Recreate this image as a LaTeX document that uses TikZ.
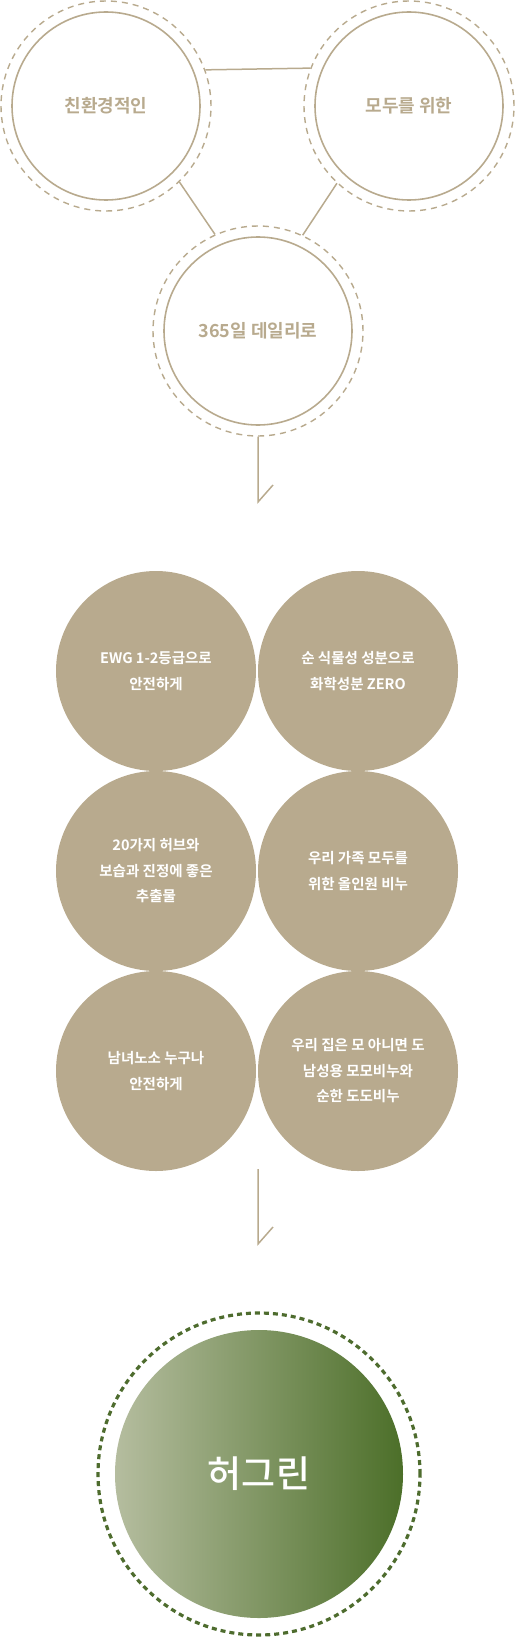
\documentclass[tikz,border=0pt]{standalone}
\usepackage{fontspec}
\setmainfont{Noto Sans CJK KR}
\newfontfamily\krmedium{Noto Sans CJK KR Medium}
\newfontfamily\krbold{Noto Sans CJK KR Bold}
\usetikzlibrary{calc}
\definecolor{tan}{HTML}{B8AA8E}
\definecolor{moss}{HTML}{4E6C2E}
\definecolor{sage}{HTML}{B5BD9F}
\definecolor{fern}{HTML}{4C6F29}
\tikzset{
	ring/.style={circle, draw=tan, line width=1.6pt, minimum size=188pt, inner sep=0pt, text=tan, font=\krbold\fontsize{18}{22}\selectfont},
	halo/.style={circle, draw=tan, line width=1.4pt, dash pattern=on 6pt off 5pt, minimum size=210pt, inner sep=0pt},
	tanball/.style={circle, fill=tan, minimum size=200pt, inner sep=0pt, text=white, align=center, font=\krbold\fontsize{14.5}{25.5}\selectfont},
	wire/.style={draw=tan, line width=1.5pt}
}

\begin{document}
\begin{tikzpicture}[x=1pt, y=-1pt]
			%%%%% START %%%%%
			\useasboundingbox (0, 0) rectangle (516, 1637);
			
			\node[halo] (haloL) at (106, 106) {};
			\node[ring] (eco) at (106, 106) {친환경적인};
			\node[halo] (haloR) at (409, 106) {};
			\node[ring] (all) at (409, 106) {모두를 위한};
			\node[halo] (haloB) at (258, 331) {};
			\node[ring] (daily) at (258, 331) {365일 데일리로};
			
			\draw[wire] (haloL.20.6) -- (haloR.159.4);
			\draw[wire] (haloL.-46.2) -- (haloB.114.7);
			\draw[wire] (haloR.-133.5) -- (haloB.65.8);
			
			\coordinate (tipA) at (258, 502);
			\coordinate (barbA) at (273, 485);
			\draw[wire] (haloB.south) -- (tipA) -- (barbA);
			
			\node[tanball] (ewg) at (156, 671) {EWG 1-2등급으로\\안전하게};
			\node[tanball] (plant) at (358, 671) {순 식물성 성분으로\\화학성분 ZERO};
			\node[tanball] (herb) at (156, 871) {20가지 허브와\\보습과 진정에 좋은\\추출물};
			\node[tanball] (family) at (358, 871) {우리 가족 모두를\\위한 올인원 비누};
			\node[tanball] (anyone) at (156, 1071) {남녀노소 누구나\\안전하게};
			\node[tanball] (momo) at (358, 1071) {우리 집은 모 아니면 도\\남성용 모모비누와\\순한 도도비누};
			
			\coordinate (stemB) at (258, 1169);
			\coordinate (tipB) at (258, 1244);
			\coordinate (barbB) at (273, 1227);
			\draw[wire] (stemB) -- (tipB) -- (barbB);
			
			\node[circle, draw=moss, line width=3.2pt, dash pattern=on 5pt off 4pt, minimum size=322pt, inner sep=0pt] (dots) at (259, 1474) {};
			\node[circle, left color=sage, right color=fern, minimum size=288pt, inner sep=0pt, text=white, font=\krmedium\fontsize{37}{42}\selectfont] (hug) at (259, 1474) {허그린};
			
			%%%%% END %%%%%
\end{tikzpicture}
\end{document}
